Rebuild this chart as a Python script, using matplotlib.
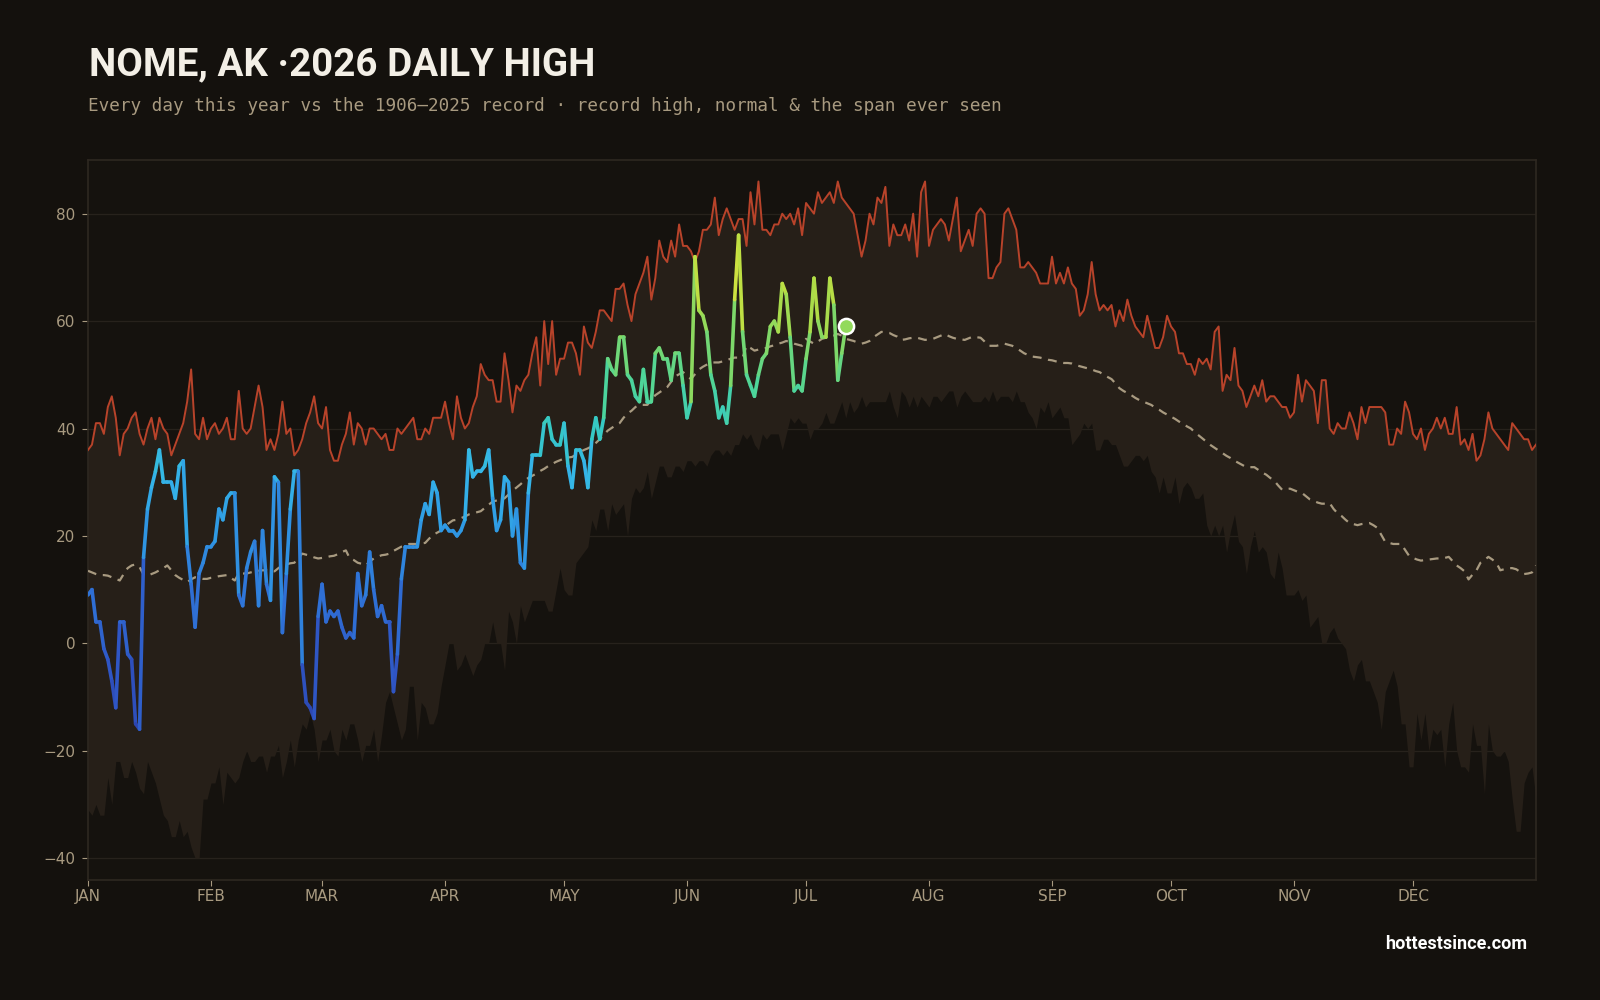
import numpy as np
import matplotlib
matplotlib.use("Agg")
import matplotlib.pyplot as plt
from matplotlib.collections import LineCollection
from matplotlib.colors import LinearSegmentedColormap, Normalize

# ---------------- data ----------------
month_labels = ["JAN", "FEB", "MAR", "APR", "MAY", "JUN", "JUL", "AUG", "SEP", "OCT", "NOV", "DEC"]
month_starts = [0, 31, 59, 90, 120, 151, 181, 212, 243, 273, 304, 334]
y_ticks = [-40, -20, 0, 20, 40, 60, 80]

record_high = [
    36, 37, 41, 41, 39, 44, 46, 42, 35, 39,
    40, 42, 43, 39, 37, 40, 42, 38, 42, 40,
    39, 35, 37, 39, 41, 45, 51, 39, 38, 42,
    38, 40, 41, 39, 40, 42, 38, 38, 47, 40,
    39, 40, 44, 48, 44, 36, 38, 36, 39, 45,
    39, 40, 35, 36, 38, 41, 43, 46, 41, 40,
    44, 36, 34, 34, 37, 39, 43, 37, 41, 40,
    37, 40, 40, 39, 38, 39, 36, 36, 40, 39,
    40, 41, 42, 38, 38, 40, 39, 42, 42, 42,
    45, 41, 38, 46, 42, 40, 41, 44, 46, 52,
    50, 49, 49, 45, 45, 54, 49, 43, 48, 47,
    49, 50, 54, 57, 48, 60, 52, 60, 50, 53,
    53, 56, 56, 54, 50, 59, 56, 55, 58, 62,
    62, 61, 60, 66, 66, 67, 63, 60, 65, 67,
    69, 72, 64, 68, 75, 72, 71, 75, 72, 78,
    74, 74, 73, 71, 73, 77, 77, 78, 83, 76,
    79, 81, 79, 77, 79, 79, 74, 84, 78, 86,
    77, 77, 76, 78, 78, 80, 79, 80, 78, 81,
    76, 82, 81, 80, 84, 82, 83, 84, 82, 86,
    83, 82, 81, 80, 76, 72, 75, 80, 78, 83,
    82, 85, 74, 78, 76, 76, 78, 75, 80, 72,
    84, 86, 74, 77, 78, 79, 78, 75, 79, 83,
    73, 75, 77, 74, 80, 81, 80, 68, 68, 70,
    71, 80, 81, 79, 77, 70, 70, 71, 70, 69,
    67, 67, 67, 72, 67, 69, 67, 70, 67, 66,
    61, 62, 65, 71, 65, 62, 63, 62, 63, 59,
    62, 60, 64, 61, 59, 58, 57, 61, 58, 55,
    55, 57, 61, 59, 58, 54, 54, 52, 52, 50,
    53, 52, 53, 51, 58, 59, 47, 50, 49, 55,
    48, 47, 44, 46, 48, 46, 49, 45, 46, 46,
    45, 44, 44, 42, 43, 50, 45, 49, 48, 47,
    41, 49, 49, 40, 39, 41, 40, 40, 43, 41,
    38, 44, 41, 44, 44, 44, 44, 43, 37, 37,
    40, 39, 45, 43, 39, 38, 40, 36, 39, 40,
    42, 40, 42, 39, 39, 44, 37, 38, 36, 39,
    34, 35, 38, 43, 40, 39, 38, 37, 36, 41,
    40, 39, 38, 38, 36, 37,
]

record_low = [
    -31, -32, -30, -32, -32, -25, -30, -22, -22, -25,
    -25, -22, -24, -27, -28, -22, -24, -26, -29, -32,
    -33, -36, -36, -33, -36, -35, -38, -40, -40, -29,
    -29, -26, -26, -23, -30, -24, -25, -26, -25, -22,
    -20, -22, -22, -21, -21, -24, -21, -21, -19, -25,
    -22, -18, -23, -18, -15, -16, -13, -16, -22, -18,
    -18, -16, -20, -21, -16, -18, -15, -15, -18, -22,
    -19, -19, -16, -22, -17, -11, -9, -12, -15, -18,
    -16, -8, -8, -18, -11, -12, -15, -15, -13, -8,
    -4, 0, 0, -5, -4, -2, -4, -6, -4, -3,
    0, 0, 4, 0, 0, -5, 6, 4, 0, 7,
    4, 6, 8, 8, 8, 8, 6, 6, 10, 14,
    10, 9, 9, 15, 16, 17, 18, 23, 21, 25,
    25, 21, 26, 24, 25, 26, 20, 27, 29, 28,
    29, 32, 27, 30, 33, 33, 31, 31, 33, 33,
    32, 34, 34, 33, 34, 34, 33, 35, 36, 36,
    35, 36, 35, 37, 37, 39, 38, 39, 37, 36,
    39, 38, 39, 39, 39, 36, 39, 42, 41, 42,
    41, 41, 38, 40, 40, 41, 43, 41, 41, 43,
    45, 42, 45, 43, 44, 46, 44, 45, 45, 45,
    45, 45, 47, 44, 42, 47, 46, 44, 46, 44,
    46, 45, 44, 46, 46, 45, 46, 47, 47, 44,
    46, 47, 46, 45, 45, 45, 46, 45, 47, 45,
    46, 46, 46, 45, 47, 45, 45, 43, 42, 40,
    44, 43, 45, 42, 43, 44, 42, 42, 37, 38,
    39, 41, 40, 41, 36, 36, 38, 38, 37, 37,
    35, 33, 33, 34, 35, 35, 34, 35, 32, 31,
    28, 31, 28, 28, 31, 26, 29, 30, 29, 27,
    27, 28, 22, 20, 22, 20, 22, 17, 21, 24,
    19, 18, 13, 18, 21, 17, 18, 17, 13, 12,
    17, 14, 9, 9, 9, 10, 8, 9, 3, 4,
    5, 0, 0, 2, 3, 1, 0, -1, -5, -7,
    -4, -3, -7, -7, -9, -11, -16, -9, -7, -5,
    -8, -15, -15, -23, -23, -13, -18, -13, -20, -16,
    -17, -16, -23, -15, -11, -20, -23, -23, -24, -15,
    -19, -19, -28, -15, -20, -21, -21, -20, -22, -29,
    -35, -35, -26, -24, -23, -29,
]

normal_high = [
    13.5, 13.2, 12.9, 12.7, 12.7, 12.6, 12.3, 12.0, 11.7, 12.9,
    14.0, 14.5, 14.7, 14.2, 12.8, 12.6, 12.9, 13.2, 13.6, 14.0,
    14.5, 13.6, 12.7, 12.2, 11.8, 11.4, 11.9, 12.3, 12.2, 12.0,
    12.0, 12.2, 12.3, 12.5, 12.6, 12.7, 12.2, 11.7, 13.0, 13.0,
    13.0, 13.2, 13.4, 13.5, 13.6, 13.6, 13.5, 13.4, 14.0, 14.5,
    14.7, 14.9, 15.0, 15.8, 16.7, 16.5, 16.3, 16.0, 15.8, 15.9,
    16.0, 16.2, 16.3, 16.6, 17.0, 17.3, 15.8, 15.5, 15.0, 14.8,
    14.5, 15.2, 15.8, 16.1, 16.4, 16.5, 16.7, 17.2, 17.6, 18.0,
    18.2, 18.5, 18.5, 18.5, 18.6, 18.7, 19.5, 20.2, 20.6, 21.0,
    21.8, 22.4, 22.9, 23.0, 23.3, 23.6, 24.0, 24.2, 24.4, 24.6,
    25.2, 25.8, 26.4, 26.6, 26.8, 27.0, 27.7, 28.4, 29.0, 29.6,
    30.3, 30.8, 31.2, 31.6, 32.1, 32.5, 33.0, 33.4, 33.8, 34.1,
    34.4, 34.6, 34.7, 35.1, 35.6, 36.0, 36.3, 36.7, 37.3, 38.0,
    38.8, 39.6, 40.1, 40.6, 41.0, 42.0, 42.8, 43.3, 44.0, 44.4,
    44.4, 44.4, 45.3, 46.2, 46.7, 47.2, 47.7, 48.7, 49.7, 50.1,
    50.5, 49.8, 49.2, 50.1, 51.0, 51.5, 51.9, 52.3, 52.3, 52.3,
    52.5, 52.7, 53.0, 53.2, 53.2, 53.2, 55.4, 55.0, 54.5, 54.7,
    54.8, 55.0, 55.3, 55.5, 55.8, 56.0, 56.3, 56.1, 55.8, 55.6,
    55.4, 56.7, 56.2, 55.8, 56.2, 56.7, 56.9, 57.1, 57.3, 57.6,
    57.3, 56.7, 56.5, 56.3, 56.0, 55.8, 56.0, 56.3, 57.0, 57.5,
    58.0, 57.9, 57.8, 57.4, 57.1, 56.5, 56.6, 56.8, 56.9, 56.9,
    56.7, 56.5, 56.6, 56.7, 57.0, 57.3, 57.6, 57.2, 56.9, 56.7,
    56.6, 56.5, 56.8, 57.1, 57.0, 56.9, 56.2, 55.4, 55.4, 55.4,
    55.6, 55.8, 55.6, 55.4, 55.0, 54.5, 54.0, 53.7, 53.4, 53.3,
    53.2, 53.0, 52.8, 52.7, 52.5, 52.3, 52.2, 52.2, 52.1, 51.8,
    51.6, 51.4, 51.2, 51.0, 50.7, 50.5, 50.0, 49.6, 49.2, 48.4,
    47.5, 47.0, 46.6, 46.2, 45.7, 45.3, 45.0, 44.7, 44.4, 43.9,
    43.5, 43.0, 42.6, 42.2, 41.8, 41.3, 40.9, 40.4, 40.0, 39.3,
    38.7, 38.1, 37.5, 36.9, 36.4, 35.9, 35.4, 34.9, 34.5, 34.0,
    33.6, 33.2, 32.8, 32.8, 32.8, 32.3, 31.8, 31.4, 30.8, 30.3,
    29.4, 28.6, 28.7, 28.8, 28.5, 28.2, 28.0, 27.4, 26.8, 26.5,
    26.2, 26.0, 26.0, 26.1, 25.0, 24.2, 23.7, 23.0, 22.4, 22.2,
    22.0, 22.2, 22.3, 22.4, 22.0, 21.5, 20.2, 18.9, 18.7, 18.5,
    18.5, 18.5, 17.4, 16.3, 15.9, 15.6, 15.4, 15.5, 15.6, 15.7,
    15.8, 15.8, 15.9, 16.1, 15.3, 14.5, 14.0, 13.4, 11.9, 12.8,
    13.6, 15.0, 15.5, 16.1, 15.6, 15.0, 13.6, 13.8, 14.0, 14.0,
    13.8, 13.3, 12.9, 13.0, 13.2, 14.5,
]

highs_2026 = [
    9, 10, 4, 4, -1, -3, -7, -12, 4, 4,
    -2, -3, -15, -16, 16, 25, 29, 32, 36, 30,
    30, 30, 27, 33, 34, 18, 11, 3, 13, 15,
    18, 18, 19, 25, 23, 27, 28, 28, 9, 7,
    14, 17, 19, 7, 21, 11, 8, 31, 30, 2,
    13, 25, 32, 32, -4, -11, -12, -14, 5, 11,
    4, 6, 5, 6, 3, 1, 2, 1, 13, 7,
    9, 17, 10, 5, 7, 4, 4, -9, -2, 12,
    18, 18, 18, 18, 23, 26, 24, 30, 28, 21,
    22, 21, 21, 20, 21, 23, 36, 31, 32, 32,
    33, 36, 27, 21, 23, 31, 30, 20, 25, 15,
    14, 28, 35, 35, 35, 41, 42, 38, 37, 37,
    41, 33, 29, 36, 36, 34, 29, 38, 42, 38,
    42, 53, 51, 50, 57, 57, 50, 49, 46, 45,
    51, 45, 45, 54, 55, 53, 53, 49, 54, 54,
    48, 42, 45, 72, 62, 61, 58, 50, 47, 42,
    44, 41, 48, 64, 76, 58, 50, 48, 46, 50,
    53, 54, 59, 60, 58, 67, 65, 57, 47, 48,
    47, 53, 58, 68, 60, 57, 57, 68, 63, 49,
    54, 59,
]

title = "NOME, AK \u00b72026 DAILY HIGH"
subtitle = "Every day this year vs the 1906\u20132025 record \u00b7 record high, normal & the span ever seen"
footer = "hottestsince.com"

# ---------------- style ----------------
BG = "#14110d"
AX_BG = "#15120e"
BAND = "#261f18"
REC_RED = "#b8432a"
NORMAL_C = "#a89a80"
TICK_C = "#a89a80"
GRID_C = "#27221c"
SPINE_C = "#2e2821"

fig = plt.figure(figsize=(16, 10), dpi=100, facecolor=BG)
ax = fig.add_axes([0.055, 0.1204, 0.905, 0.7196])
ax.set_facecolor(AX_BG)

days_rec = np.arange(len(record_high))
days_26 = np.arange(len(highs_2026))

ax.fill_between(days_rec, record_low, record_high, color=BAND, lw=0, zorder=1)
ax.plot(days_rec, record_high, color=REC_RED, lw=1.4, zorder=3)
ax.plot(days_rec, normal_high, color=NORMAL_C, lw=1.6, ls=(0, (4, 3)), zorder=3)

stops = [(-20, "#2b3ea6"), (-5, "#2f55c4"), (10, "#2f74d8"), (22, "#2f9ae4"),
         (32, "#35b6e8"), (40, "#36c9c4"), (48, "#4dd59a"), (56, "#7dd86a"),
         (64, "#b0dc46"), (76, "#e8e63a"), (80, "#f0e83a")]
vmin, vmax = stops[0][0], stops[-1][0]
cmap = LinearSegmentedColormap.from_list(
    "temps", [((v - vmin) / (vmax - vmin), c) for v, c in stops])
norm = Normalize(vmin, vmax)

pts = np.column_stack([days_26, highs_2026]).astype(float)
segs = np.stack([pts[:-1], pts[1:]], axis=1)
seg_vals = (pts[:-1, 1] + pts[1:, 1]) / 2
lc = LineCollection(segs, colors=cmap(norm(seg_vals)), linewidths=2.6,
                    capstyle="round", joinstyle="round", zorder=4)
ax.add_collection(lc)

ax.scatter([days_26[-1]], [highs_2026[-1]], s=120, color=cmap(norm(highs_2026[-1])),
           edgecolor="white", linewidth=1.8, zorder=6)

ax.set_xlim(0, 365)
ax.set_ylim(-44, 90)
ax.set_xticks(month_starts)
ax.set_xticklabels(month_labels)
ax.set_yticks(y_ticks)
ax.set_yticklabels([f"{t}".replace("-", "\u2212") for t in y_ticks])
ax.tick_params(axis="both", colors=TICK_C, labelsize=11, length=4, width=0.8, pad=5)
ax.tick_params(axis="x", pad=3)
for lab in ax.get_xticklabels() + ax.get_yticklabels():
    lab.set_color(TICK_C)
ax.grid(axis="y", color=GRID_C, lw=0.9)
ax.grid(axis="x", visible=False)
ax.set_axisbelow(True)
for s in ax.spines.values():
    s.set_color(SPINE_C)
    s.set_linewidth(1.2)

fig.text(0.0556, 0.9245, title, fontsize=27.7, fontweight="bold", color="#f3efe6",
         family="Roboto", va="baseline", ha="left")
fig.text(0.0553, 0.889, subtitle, fontsize=12.7, color=TICK_C,
         family="DejaVu Sans Mono", va="baseline", ha="left")
fig.text(0.9547, 0.056, footer, fontsize=13, fontweight="bold", color="white",
         family="Roboto", va="center", ha="right")

fig.savefig("out.png", dpi=100, facecolor=BG)
